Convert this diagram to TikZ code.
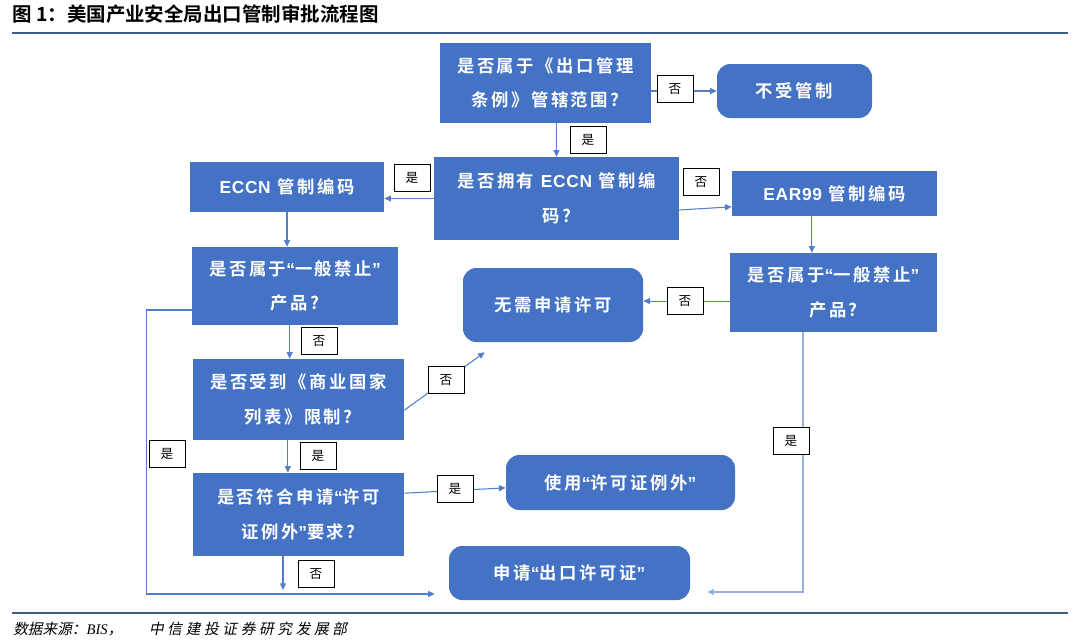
\documentclass[tikz,border=0pt]{standalone}
\usepackage{fontspec}
\setmainfont{Liberation Serif}
\newfontfamily\cjk[BoldFont={* Bold}]{Noto Sans CJK SC}
\newfontfamily\cjkbox[BoldFont={* Bold},LetterSpace=15]{Noto Sans CJK SC}
\newfontfamily\latinbox[LetterSpace=4]{Liberation Sans}
\newfontfamily\cjkslant[FakeSlant=0.2]{Noto Sans CJK SC}
\newfontfamily\cjkslantwide[FakeSlant=0.2,LetterSpace=25]{Noto Sans CJK SC}
\newcommand{\oq}{{\latinbox “}}
\newcommand{\cq}{{\latinbox ”}}
\usetikzlibrary{arrows.meta, positioning}

\definecolor{boxblue}{RGB}{68,114,196}
\definecolor{lineblue}{RGB}{84,126,200}
\definecolor{paleblue}{RGB}{150,176,222}
\definecolor{rulecol}{RGB}{58,94,138}

\begin{document}
\begin{tikzpicture}[x=0.75pt, y=-0.75pt,
    askbox/.style={rectangle, fill=boxblue, text=white, align=center, inner sep=0pt,
        font=\cjkbox\bfseries\fontsize{13pt}{26pt}\selectfont},
    endbox/.style={askbox, rounded corners=10pt},
    lbl/.style={draw=black, fill=white, line width=0.6pt, minimum width=27pt, minimum height=20pt,
        inner sep=0pt, font=\cjk\fontsize{9.5pt}{11pt}\selectfont},
    arr/.style={draw=lineblue, line width=0.8pt, -{Triangle[length=5pt,width=4.5pt]}},
    arrl/.style={arr, draw=paleblue},
    rule/.style={draw=rulecol, line width=2.2pt}]
    \useasboundingbox (0,0) rectangle (1080,643);

    % Title and rules
    \node[anchor=west, inner sep=0pt, font=\cjk\bfseries\fontsize{14.6pt}{16pt}\selectfont] (title) at (12,14) {图 1：美国产业安全局出口管制审批流程图};
    \draw[rule] (12,33) -- (1068,33);
    \draw[rule] (12,613) -- (1068,613);
    \node[anchor=west, inner sep=0pt, font=\fontsize{11pt}{13pt}\selectfont] (source) at (13,629)
        {{\cjkslant 数据来源：}{\itshape BIS}{\cjkslant ，}\hspace{20pt}{\cjkslantwide 中信建投证券研究发展部}};

    % Decision boxes
    \node[askbox, minimum width=158.25pt, minimum height=60pt] (inear) at (545.5,83) {是否属于《出口管理\\条例》管辖范围?};
    \node[askbox, minimum width=183.75pt, minimum height=62.25pt] (haseccn) at (556.5,198.5) {是否拥有 {\latinbox ECCN} 管制编\\码?};
    \node[askbox, minimum width=145.5pt, minimum height=37.5pt] (eccn) at (287,187) {{\latinbox ECCN} 管制编码};
    \node[askbox, minimum width=153.75pt, minimum height=33.75pt] (ear) at (834.5,193.5) {{\latinbox EAR99} 管制编码};
    \node[askbox, minimum width=154.5pt, minimum height=58.5pt] (banl) at (295,286) {是否属于\oq 一般禁止\cq\\产品?};
    \node[askbox, minimum width=155.25pt, minimum height=59.25pt] (banr) at (833.5,292.5) {是否属于\oq 一般禁止\cq\\产品?};
    \node[askbox, minimum width=158.25pt, minimum height=60.75pt] (ccl) at (298.5,399.5) {是否受到《商业国家\\列表》限制?};
    \node[askbox, minimum width=158.25pt, minimum height=62.25pt] (except) at (298.5,514.5) {是否符合申请\oq 许可\\证例外\cq 要求?};

    % Result boxes
    \node[endbox, minimum width=116.25pt, minimum height=40.5pt] (free) at (794.5,91) {不受管制};
    \node[endbox, minimum width=135pt, minimum height=55.5pt] (nolic) at (553,305) {无需申请许可};
    \node[endbox, minimum width=171.75pt, minimum height=41.25pt] (useexc) at (620.5,482.5) {使用\oq 许可证例外\cq};
    \node[endbox, minimum width=180.75pt, minimum height=40.5pt] (apply) at (569.5,573) {申请\oq 出口许可证\cq};

    % Connectors
    \draw[arr] (haseccn.north |- inear.south) -- (haseccn.north);
    \draw[arr] (free.west -| inear.east) -- (free.west);
    \draw[arr] (haseccn.west) -- (haseccn.west -| eccn.east);
    \draw[arr] ([yshift=-8.6pt]haseccn.east) -- ([yshift=-10pt]ear.west);
    \draw[arr] (eccn.south) -- (eccn.south |- banl.north);
    \draw[arr] ([xshift=-17pt]ear.south) -- ([xshift=-17pt]ear.south |- banr.north);
    \draw[arr] ([yshift=-6.4pt]banr.west) -- ([yshift=-6.4pt]banr.west -| nolic.east);
    \draw[arr] ([xshift=-4pt]banl.south) -- ([xshift=-4pt]banl.south |- ccl.north);
    \draw[arr] ([yshift=-8pt]ccl.east) -- ([shift={(16.5pt,-7.5pt)}]nolic.south west);
    \draw[arr] ([xshift=-8pt]ccl.south) -- ([xshift=-8pt]ccl.south |- except.north);
    \coordinate (drop) at (283,590);
    \draw[arr] (except.south -| drop) -- (drop);
    \draw[arr] ([yshift=16pt]except.east) -- ([yshift=-4pt]useexc.west);
    \draw[arr] ([yshift=-18pt]banl.west) -- ++(-45,0) |- ([shift={(-10.5pt,-15.75pt)}]apply.west);
    \draw[arrl] ([xshift=-22.9pt]banr.south) |- ([shift={(12.75pt,-14.25pt)}]apply.east);

    % Yes / no labels
    \node[lbl] (nfree) at (675,89) {否};
    \node[lbl] (yinear) at (588,140) {是};
    \node[lbl] (yeccn) at (412,178) {是};
    \node[lbl] (near) at (701,182) {否};
    \node[lbl] (nbanr) at (685,301) {否};
    \node[lbl] (nbanl) at (319,341) {否};
    \node[lbl] (nccl) at (446,380) {否};
    \node[lbl] (yccl) at (318,456) {是};
    \node[lbl] (yloop) at (167,454) {是};
    \node[lbl] (yexc) at (455,489) {是};
    \node[lbl] (nexc) at (316,574) {否};
    \node[lbl] (ybanr) at (791,441) {是};
\end{tikzpicture}
\end{document}
